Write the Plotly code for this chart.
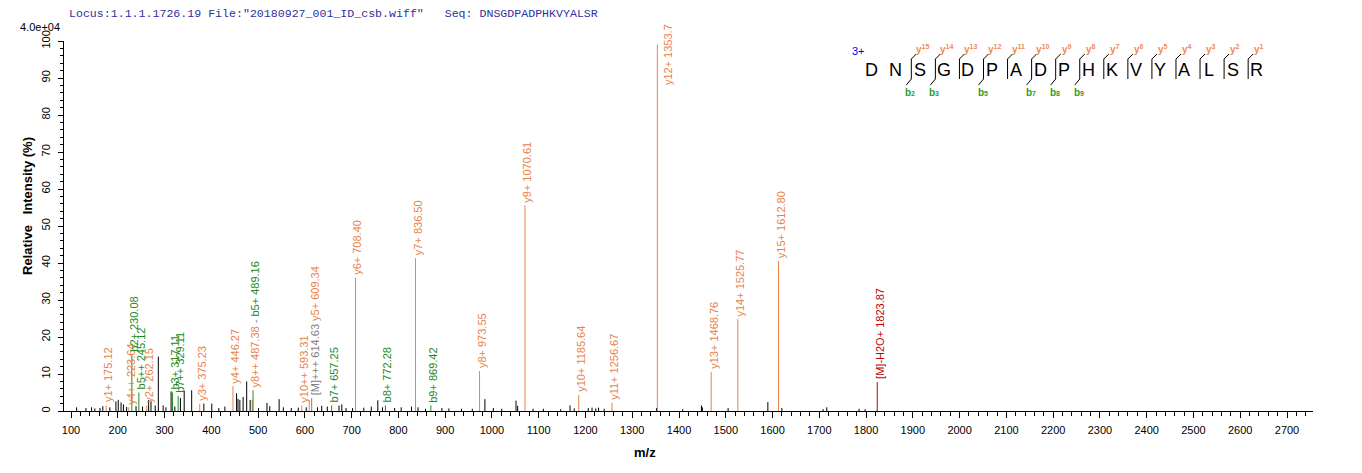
import plotly.graph_objects as go

# ---------------- data ----------------
header_text = 'Locus:1.1.1.1726.19 File:"20180927_001_ID_csb.wiff"   Seq: DNSGDPADPHKVYALSR'
scale_text = "4.0e+04"
sequence = "DNSGDPADPHKVYALSR"
charge_text = "3+"
y_sites = [2, 3, 4, 5, 6, 7, 8, 9, 10, 11, 12, 13, 14, 15, 16]   # cleavage after residue k -> y(17-k)
b_sites = [2, 3, 5, 7, 8, 9]

frag_mz = [175.12, 223.64, 230.08, 245.12, 262.15, 317.11, 329.11, 375.23, 446.27,
           487.38, 489.16, 593.31, 609.34, 614.63, 657.25, 708.40, 772.28, 836.50,
           869.42, 973.55, 1070.61, 1185.64, 1256.67, 1353.70, 1468.76, 1525.77,
           1612.80, 1823.87]
frag_int = [1.5, 1.0, 15.3, 5.0, 1.5, 5.0, 4.0, 2.0, 6.7,
            3.0, 5.6, 1.5, 3.0, 3.5, 1.5, 36.0, 1.5, 41.3,
            1.5, 10.8, 55.6, 4.3, 2.2, 99.0, 10.5, 24.8,
            40.5, 7.8]
frag_label = ["y1+ 175.12", "y4++ 223.64", "b2+ 230.08", "b5++ 245.12", "y2+ 262.15",
              "b3+ 317.11", "b7++ 329.11", "y3+ 375.23", "y4+ 446.27",
              "y8++ 487.38", "b5+ 489.16", "y10++ 593.31", "y5+ 609.34", "[M]+++ 614.63",
              "b7+ 657.25", "y6+ 708.40", "b8+ 772.28", "y7+ 836.50",
              "b9+ 869.42", "y8+ 973.55", "y9+ 1070.61", "y10+ 1185.64", "y11+ 1256.67",
              "y12+ 1353.7", "y13+ 1468.76", "y14+ 1525.77",
              "y15+ 1612.80", "[M]-H2O+ 1823.87"]
frag_kind = ["y", "y", "b", "b", "y", "b", "b", "y", "y",
             "y", "b", "y", "y", "M", "b", "y", "b", "y",
             "b", "y", "y", "y", "y", "y", "y", "y", "y", "MH2O"]
# labels drawn in one column: (lower, separator, upper)
stacked_pairs = [("y8++ 487.38", " - ", "b5+ 489.16"), ("[M]+++ 614.63", " ", "y5+ 609.34")]

noise_mz = [112, 132, 144, 151, 162, 168, 183, 196, 201, 207, 212, 219, 239, 253, 266, 271,
            280, 286.7, 297, 303, 314, 322, 334, 342, 358, 384, 401, 416, 429, 454, 457,
            461, 468, 475.6, 483, 501, 519, 525, 545, 554, 571, 586, 603, 627, 636, 648,
            673, 679, 688, 702, 726, 742, 756, 766, 792, 806, 828, 842, 858, 893, 908,
            935, 958, 985, 1003, 1021, 1051.5, 1055, 1088, 1110, 1147, 1167, 1176, 1206,
            1214, 1222, 1228, 1240, 1352, 1408, 1448, 1450, 1505, 1590, 1620, 1708, 1716,
            1785, 1798]
noise_int = [1.0, 0.8, 1.0, 0.7, 0.8, 1.3, 1.0, 2.6, 3.0, 2.3, 1.8, 1.1, 1.3, 1.2, 3.0, 2.6,
             1.5, 14.7, 1.5, 1.0, 5.3, 1.2, 3.5, 5.5, 5.6, 2.0, 2.0, 0.8, 1.2, 4.8, 3.3,
             3.0, 3.8, 8.0, 3.0, 0.8, 2.2, 1.3, 3.2, 1.0, 0.8, 0.9, 1.0, 1.0, 1.4, 1.2,
             1.5, 1.8, 0.8, 0.8, 0.9, 1.2, 2.9, 1.0, 0.8, 1.0, 1.2, 1.0, 0.6, 0.8, 0.7,
             0.6, 0.6, 3.2, 0.8, 0.6, 2.8, 1.4, 0.6, 0.6, 0.5, 1.5, 0.7, 0.8,
             0.9, 0.7, 0.9, 0.6, 0.8, 0.5, 1.5, 1.0, 0.8, 2.4, 0.8, 0.5, 1.0,
             0.6, 0.5]

x_tick_vals = list(range(100, 2701, 100))
y_tick_vals = list(range(0, 101, 10))

# ---------------- styling ----------------
COL = {"y": "#E8834A", "b": "#228B22", "M": "#7F7F7F", "MH2O": "#C00000"}
OFF = 8                      # page body margin
W, H = 1362 - OFF, 473 - OFF
ML, MR, MT, MB = 56, 49, 33, 62
PW, PH = W - ML - MR, H - MT - MB
FONT = "Arial, Liberation Sans, sans-serif"


def px(xs):
    """screen pixel x -> paper"""
    return (xs - OFF - ML) / PW


def py(ys):
    """screen pixel y -> paper"""
    return (H - MB - (ys - OFF)) / PH


def sticks(xs, ys):
    X, Y = [], []
    for a, b in zip(xs, ys):
        X += [a, a, None]
        Y += [0, b, None]
    return X, Y


fig = go.Figure()
nx, ny = sticks(noise_mz, noise_int)
fig.add_trace(go.Scatter(x=nx, y=ny, mode="lines", line=dict(color="black", width=1),
                         hoverinfo="skip", showlegend=False))
for kind in ["y", "b", "M", "MH2O"]:
    xs = [m for m, k in zip(frag_mz, frag_kind) if k == kind]
    ys = [v for v, k in zip(frag_int, frag_kind) if k == kind]
    fx, fy = sticks(xs, ys)
    fig.add_trace(go.Scatter(x=fx, y=fy, mode="lines", line=dict(color=COL[kind], width=1),
                             hoverinfo="skip", showlegend=False))

annotations = []
idx = {lab: i for i, lab in enumerate(frag_label)}
in_pair = set()
for lo, sep, up in stacked_pairs:
    i, j = idx[lo], idx[up]
    in_pair.update([i, j])
    txt = (f'<span style="color:{COL[frag_kind[i]]}">{lo}</span>'
           f'<span style="color:#888">{sep}</span>'
           f'<span style="color:{COL[frag_kind[j]]}">{up}</span>')
    annotations.append(dict(x=frag_mz[i], y=max(frag_int[i], frag_int[j]), text=txt,
                            textangle=-90, showarrow=False, xanchor="center", yanchor="bottom",
                            xshift=3, yshift=1, font=dict(family=FONT, size=11)))
for i, (m, v, lab, k) in enumerate(zip(frag_mz, frag_int, frag_label, frag_kind)):
    if i in in_pair:
        continue
    if v > 90:
        annotations.append(dict(x=m, y=v - 11.5, text=lab, textangle=-90, showarrow=False,
                                xanchor="center", yanchor="bottom", xshift=10,
                                font=dict(family=FONT, size=11, color=COL[k])))
    else:
        annotations.append(dict(x=m, y=v, text=lab, textangle=-90, showarrow=False,
                                xanchor="center", yanchor="bottom", xshift=2, yshift=1,
                                font=dict(family=FONT, size=11, color=COL[k])))

# texts around the plot
paper = dict(xref="paper", yref="paper", showarrow=False)
annotations.append(dict(text=header_text, x=px(67), y=py(13), xanchor="left", yanchor="middle",
                        font=dict(family="Courier New, Liberation Mono, monospace", size=11.6,
                                  color="#3030A0"), **paper))
annotations.append(dict(text=scale_text, x=px(40), y=py(27), xanchor="center", yanchor="middle",
                        font=dict(family=FONT, size=11, color="black"), **paper))
annotations.append(dict(text="<b>Relative&nbsp;&nbsp;&nbsp;Intensity (%)</b>", x=px(27),
                        y=py(206), textangle=-90, xanchor="center", yanchor="middle",
                        font=dict(family=FONT, size=13, color="black"), **paper))
annotations.append(dict(text="<b>m/z</b>", x=px(645), y=py(452), xanchor="center",
                        yanchor="middle", font=dict(family=FONT, size=13, color="black"), **paper))

# sequence diagram
shapes = []
x0, step, ymid = 871.7, 24.06, 70
annotations.append(dict(text=charge_text, x=px(858), y=py(51), xanchor="center", yanchor="middle",
                        font=dict(family=FONT, size=11, color="#0000EE"), **paper))
for i, aa in enumerate(sequence):
    annotations.append(dict(text=aa, x=px(x0 + step * i), y=py(ymid), xanchor="center",
                            yanchor="middle", font=dict(family=FONT, size=18, color="black"),
                            **paper))
line_style = dict(color="black", width=1)
for k in sorted(set(y_sites) | set(b_sites)):
    bx = x0 + step * k - 8.5
    shapes.append(dict(type="line", xref="paper", yref="paper", x0=px(bx), x1=px(bx),
                       y0=py(59), y1=py(79), line=line_style))
    if k in y_sites:
        shapes.append(dict(type="line", xref="paper", yref="paper", x0=px(bx), x1=px(bx + 5),
                           y0=py(59), y1=py(54), line=line_style))
        annotations.append(dict(text=f"<b>y<sup>{len(sequence) - k}</sup></b>", x=px(bx + 11),
                                y=py(49), xanchor="center", yanchor="middle",
                                font=dict(family=FONT, size=10, color="#F08A50"), **paper))
    if k in b_sites:
        shapes.append(dict(type="line", xref="paper", yref="paper", x0=px(bx), x1=px(bx - 5),
                           y0=py(79), y1=py(85), line=line_style))
        annotations.append(dict(text=f'<b>b<span style="font-size:7px">{k}</span></b>',
                                x=px(bx - 1), y=py(92), xanchor="center", yanchor="middle",
                                font=dict(family=FONT, size=10, color="#2E9B2E"), **paper))

fig.update_layout(
    width=W, height=H, margin=dict(l=ML, r=MR, t=MT, b=MB, autoexpand=False),
    plot_bgcolor="white", paper_bgcolor="white", showlegend=False,
    annotations=annotations, shapes=shapes,
    xaxis=dict(range=[85.0, 2755.6], tickvals=x_tick_vals,
               ticktext=[str(v) for v in x_tick_vals],
               ticks="outside", ticklen=6, tickcolor="black", showline=True, linecolor="black",
               linewidth=1, showgrid=False, zeroline=False, fixedrange=True,
               ticklabelstandoff=3,
               tickfont=dict(family=FONT, size=11, color="black"),
               minor=dict(dtick=20, tick0=100, ticks="outside", ticklen=4, tickcolor="black",
                          showgrid=False)),
    yaxis=dict(range=[0, 100], tickvals=y_tick_vals, ticktext=[str(v) for v in y_tick_vals],
               tickangle=-90, ticks="outside", ticklen=5, tickcolor="black", showline=True,
               linecolor="black", linewidth=1, showgrid=False, zeroline=False, fixedrange=True,
               ticklabelstandoff=4,
               tickfont=dict(family=FONT, size=11, color="black"),
               minor=dict(dtick=2, tick0=0, ticks="outside", ticklen=3, tickcolor="black",
                          showgrid=False)),
)
fig.write_html("out.html")
